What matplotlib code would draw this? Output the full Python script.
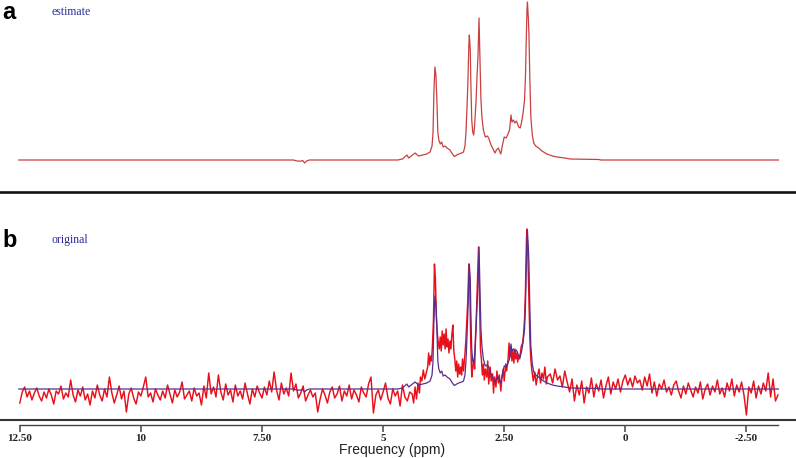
import numpy as np
import matplotlib
matplotlib.use("Agg")
import matplotlib.pyplot as plt

# ---------------- data ----------------
# fitted spectrum ("estimate"), intensity in arbitrary units
estimate_ppm = [12.52, 6.85, 6.78, 6.70, 6.66, 6.62, 6.58, 6.52, 4.70, 4.60,
                4.51, 4.47, 4.42, 4.34, 4.27, 4.18, 4.10, 4.03, 3.99, 3.97,
                3.95, 3.93, 3.91, 3.89, 3.87, 3.85, 3.82, 3.79, 3.76, 3.72,
                3.68, 3.62, 3.57, 3.53, 3.48, 3.44, 3.38, 3.34, 3.31, 3.29,
                3.27, 3.25, 3.23, 3.22, 3.20, 3.19, 3.17, 3.15, 3.13, 3.11,
                3.08, 3.06, 3.04, 3.02, 3.00, 2.98, 2.96, 2.93, 2.89, 2.85,
                2.82, 2.78, 2.75, 2.72, 2.69, 2.66, 2.62, 2.59, 2.57, 2.54,
                2.50, 2.46, 2.43, 2.39, 2.36, 2.34, 2.31, 2.28, 2.25, 2.23,
                2.20, 2.17, 2.14, 2.11, 2.08, 2.06, 2.05, 2.03, 2.02, 2.00,
                1.99, 1.97, 1.95, 1.92, 1.89, 1.85, 1.79, 1.72, 1.62, 1.50,
                1.41, 1.25, 1.14, 0.55, 0.50, -3.16]
estimate_int = [0, 0, -1, -1.2, -0.5, -3, -1, 0, 0, 1,
                5, 2, 4, 7, 4, 5, 6, 8, 14, 27,
                70, 93, 85, 60, 28, 20, 16, 18, 13, 14,
                12, 10, 6, 3.5, 5, 6, 7, 8, 14, 27,
                50, 77, 115, 125, 110, 80, 40, 28, 25, 35,
                60, 85, 105, 142, 100, 60, 43, 30, 23, 24,
                22, 16, 13, 10, 7, 10, 12, 8, 6, 14,
                23, 22, 25, 30, 45, 38, 40, 37, 39, 37,
                33, 32, 38, 47, 60, 85, 110, 150, 158, 140,
                127, 80, 43, 25, 17, 14, 12, 9, 6, 4,
                3, 2, 1, 0.5, 0, 0]

# measured spectrum ("original"): noisy baseline left of the peaks
original_left_start, original_left_step = 12.50, 0.05
original_left = [-14, -3, 2, -8, -2, -11, -4, 1, -7, -12,
                 -3, -9, 0, -6, -15, -2, -5, 3, -10, -4,
                 -8, 9, -6, -13, -1, -7, 2, -11, -5, -16,
                 -2, -9, 4, -6, -12, 0, -8, 12, -4, -14,
                 -6, 3, -10, -2, -23, -5, 1, -9, -15, -3,
                 -7, 2, 12, -8, -4, -13, 0, -6, -11, -2,
                 -9, 4, -5, -14, -1, -8, -3, 7, -10, -6,
                 -2, -12, 1, -7, -4, -16, 3, -9, 16, -5,
                 2, -8, 14, -3, -11, 5, -6, -1, -13, 4,
                 -7, -2, -10, 6, -5, -15, 0, -8, 3, -4,
                 -9, 2, -6, 8, -3, 17, -1, -11, 6, -5,
                 1, -7, 16, -2, 5, -9, -4, 3, -12, -6,
                 -1, -8, -4, -23, -10, 0, -6, -14, -3, 2,
                 -9, -5, 3, -12, -2, -7, 4, -10, -1, -6,
                 -13, 2, -4, -8, 5, 12, -24, -6, -1, -11,
                 -3, 6, -9, -15, 0, -7, -2, -17, 4, -8, -12, -3]

# measured spectrum in the metabolite region
original_mid_ppm = [4.40, 4.37, 4.34, 4.31, 4.28, 4.25, 4.23, 4.20, 4.17, 4.14,
                    4.11, 4.08, 4.06, 4.04, 4.02, 4.00, 3.98, 3.96, 3.94, 3.92,
                    3.90, 3.88, 3.86, 3.84, 3.82, 3.80, 3.78, 3.76, 3.74, 3.72,
                    3.70, 3.68, 3.66, 3.64, 3.62, 3.60, 3.58, 3.56, 3.54, 3.52,
                    3.50, 3.48, 3.46, 3.44, 3.42, 3.40, 3.38, 3.36, 3.34, 3.31,
                    3.29, 3.27, 3.25, 3.23, 3.21, 3.19, 3.17, 3.15, 3.13, 3.11,
                    3.09, 3.07, 3.05, 3.03, 3.01, 2.99, 2.97, 2.95, 2.93, 2.91,
                    2.89, 2.86, 2.84, 2.82, 2.79, 2.77, 2.74, 2.72, 2.70, 2.67,
                    2.65, 2.62, 2.60, 2.57, 2.55, 2.52, 2.50, 2.47, 2.45, 2.42,
                    2.40, 2.38, 2.36, 2.34, 2.32, 2.30, 2.28, 2.26, 2.24, 2.22,
                    2.20, 2.18, 2.15, 2.12, 2.10, 2.08, 2.06, 2.04, 2.03, 2.01,
                    1.99, 1.97, 1.95, 1.93, 1.90, 1.87, 1.84, 1.81, 1.78, 1.75,
                    1.72, 1.69, 1.66, 1.63, 1.61]
original_mid = [-5, -14, 2, -10, 6, -4, 12, 8, 19, 10,
                16, 22, 36, 24, 33, 28, 45, 70, 125, 110,
                72, 55, 46, 40, 52, 38, 58, 44, 55, 40,
                60, 42, 50, 36, 48, 40, 55, 64, 38, 30,
                18, 28, 12, 25, 15, 22, 14, 30, 18, 35,
                50, 70, 90, 125, 100, 45, 12, 22, 29, 20,
                55, 80, 110, 142, 90, 40, 29, 14, 25, 9,
                20, 12, 28, 5, 22, 8, 15, -4, 12, 2,
                18, 6, 14, -2, 10, 20, 8, 25, 18, 30,
                46, 32, 42, 28, 38, 26, 40, 30, 36, 27,
                34, 30, 42, 46, 55, 70, 100, 150, 160, 130,
                90, 50, 29, 19, 8, 17, 4, 14, 20, 6,
                16, 10, 22, 5, 12]

# measured spectrum: noisy baseline right of the peaks
original_right_start, original_right_step = 1.55, 0.05
original_right = [15, 6, 20, 9, 13, 2, 18, 7, -3, 10,
                  -12, 4, -6, 8, -14, 2, -4, 11, -8, 5,
                  -2, 9, -9, 3, 12, -5, 7, 0, 10, -3,
                  8, 14, 4, 11, 2, 13, 6, 9, -1, 12,
                  3, 15, -4, 7, -7, 5, 0, 9, -3, 2,
                  -6, 4, 8, -2, -9, 3, -5, 6, -1, -8,
                  2, -4, 7, -10, 0, 5, -6, 3, -3, 9,
                  -5, 1, -8, 6, -2, 10, -7, 4, -3, 7,
                  -6, -26, 2, -4, 8, -9, 3, -5, 6, -2,
                  16, -8, 10, -12, -6]

tick_values = [12.5, 10, 7.5, 5, 2.5, 0, -2.5]
tick_labels = ["12.50", "10", "7.50", "5", "2.50", "0", "-2.50"]

# ---------------- assemble the measured trace ----------------
left_ppm = original_left_start - original_left_step * np.arange(len(original_left))
right_ppm = original_right_start - original_right_step * np.arange(len(original_right))
orig_ppm = np.concatenate([left_ppm, original_mid_ppm, right_ppm])
orig_int = np.concatenate([original_left, original_mid, original_right])

# ---------------- figure ----------------
W, H = 796, 458
fig = plt.figure(figsize=(W / 100, H / 100), dpi=100)

def fy(p):
    return 1 - p / H

XL = (12.909, -3.524)

EST_COL = "#c84040"
RED = "#e8101a"
PURPLE = "#5a2d8c"
LAB_COL = "#2a2a9c"

# top panel: estimate
ax1 = fig.add_axes([0, fy(192), 1, 192 / H])
ax1.plot(estimate_ppm, estimate_int, color=EST_COL, lw=0.9)
ax1.set_xlim(*XL)
ax1.set_ylim(-32, 160)
for s in ["top", "left", "right"]:
    ax1.spines[s].set_visible(False)
ax1.spines["bottom"].set_linewidth(1.9)
ax1.spines["bottom"].set_color("#111111")
ax1.set_xticks([])
ax1.set_yticks([])
ax1.patch.set_alpha(0)

# bottom panel: original + estimate overlay
ax2 = fig.add_axes([0, fy(420), 1, 220 / H])
ax2.plot(orig_ppm, orig_int, color=RED, lw=1.05)
ax2.plot(estimate_ppm, estimate_int, color=PURPLE, lw=0.9)
ax2.set_xlim(*XL)
ax2.set_ylim(-31, 189)
for s in ["top", "left", "right"]:
    ax2.spines[s].set_visible(False)
ax2.spines["bottom"].set_linewidth(1.5)
ax2.spines["bottom"].set_color("#333333")
ax2.set_xticks([])
ax2.set_yticks([])
ax2.patch.set_alpha(0)

# tick axis (thin line with ticks below the frame line)
ax3 = fig.add_axes([0, fy(424.5), 1, 2 / H])
ax3.set_xlim(*XL)
for s in ["top", "left", "right"]:
    ax3.spines[s].set_visible(False)
ax3.spines["bottom"].set_bounds(orig_ppm.max(), orig_ppm.min())
ax3.spines["bottom"].set_linewidth(1.0)
ax3.spines["bottom"].set_color("#444444")
ax3.set_yticks([])
ax3.set_xticks(tick_values)
ax3.set_xticklabels(tick_labels, fontfamily="Liberation Serif",
                    fontsize=8, fontweight="bold", color="#222222")
ax3.tick_params(axis="x", direction="out", length=5, width=1.1,
                color="#444444", pad=2)
ax3.patch.set_alpha(0)

fig.text(392 / W, fy(454), "Frequency (ppm)", ha="center", va="baseline",
         fontfamily="Liberation Sans", fontsize=10, color="#222222")

fig.text(2 / W, fy(19), "a", ha="left", va="baseline",
         fontfamily="Liberation Sans", fontsize=17, fontweight="bold")
fig.text(2 / W, fy(247), "b", ha="left", va="baseline",
         fontfamily="Liberation Sans", fontsize=17, fontweight="bold")
fig.text(51 / W, fy(15), "estimate", ha="left", va="baseline",
         fontfamily="Liberation Serif", fontsize=8.5, color=LAB_COL)
fig.text(51 / W, fy(243), "original", ha="left", va="baseline",
         fontfamily="Liberation Serif", fontsize=8.5, color=LAB_COL)

fig.savefig("out.png", dpi=100)
